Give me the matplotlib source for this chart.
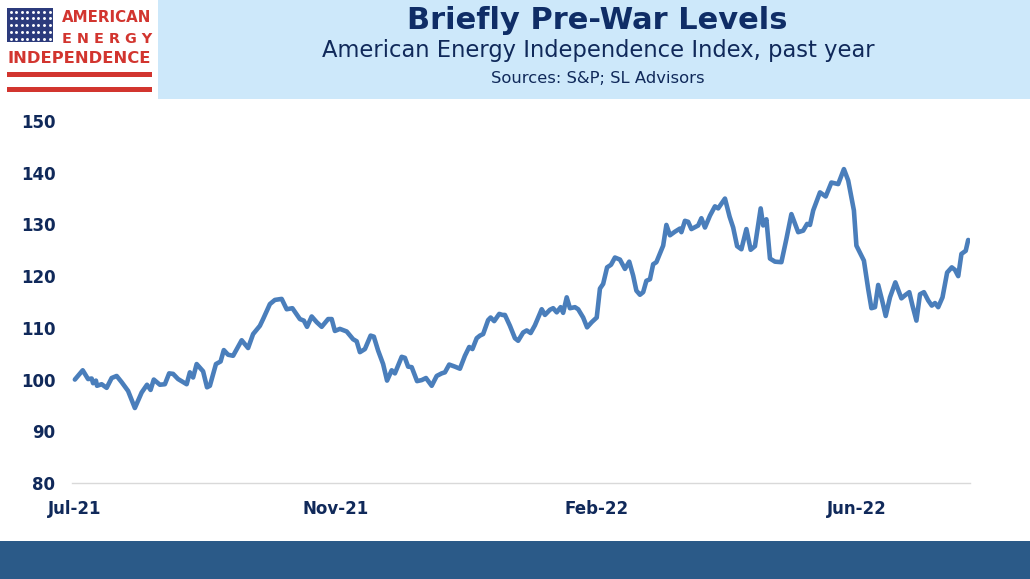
import numpy as np
import matplotlib
matplotlib.use("Agg")
import matplotlib.pyplot as plt
from matplotlib.patches import Rectangle

# trading-day index (0 = early Jul-21) and index level
days = [0.0, 2.2, 3.7, 4.7, 5.1, 5.9, 6.2, 7.5, 8.9, 10.3, 11.7, 13.1, 14.9, 16.8, 18.7,
        20.2, 21.2, 22.1, 23.8, 25.2, 26.4, 27.5, 28.9, 31.3, 32.2, 33.1, 34.1, 35.9, 37.0,
        37.8, 39.5, 40.8, 41.7, 42.9, 44.3, 46.7, 48.5, 49.9, 51.8, 52.7, 54.6, 56.0, 57.9,
        59.3, 60.9, 63.0, 64.1, 65.0, 66.3, 67.7, 69.1, 70.9, 71.9, 72.8, 74.2, 76.1, 77.9,
        78.9, 79.8, 81.2, 82.8, 83.7, 84.9, 86.3, 87.4, 88.7, 89.6, 91.5, 92.4, 93.3, 94.3,
        95.8, 97.1, 98.3, 99.9, 101.3, 102.7, 103.6, 104.8, 106.4, 107.8, 109.2, 110.4, 111.3,
        112.5, 113.4, 114.3, 115.7, 116.4, 117.4, 118.8, 119.7, 120.4, 121.8, 123.2, 124.1,
        125.5, 126.5, 127.6, 128.8, 130.7, 131.6, 133.0, 133.9, 134.9, 136.0, 136.7, 137.7,
        138.6, 140.0, 140.9, 142.3, 143.4, 144.7, 146.1, 147.0, 147.9, 149.0, 150.1, 151.2,
        152.6, 154.0, 155.2, 156.3, 157.2, 158.2, 159.1, 160.0, 161.0, 161.9, 162.8, 164.7,
        165.6, 166.6, 168.0, 169.4, 169.8, 170.8, 171.7, 172.6, 174.5, 175.4, 176.4, 177.8,
        179.2, 180.1, 182.0, 183.3, 184.3, 185.4, 186.6, 188.0, 189.2, 190.4, 192.0, 192.7,
        193.6, 194.6, 196.0, 197.8, 199.2, 200.6, 202.5, 203.9, 205.0, 205.8, 206.7, 208.6,
        210.2, 211.8, 213.7, 215.3, 216.5, 218.1, 218.8, 220.9, 222.1, 223.0, 224.0, 224.9,
        226.0, 227.0, 228.2, 229.7, 231.4, 232.6, 233.6, 234.5, 235.6, 236.6, 237.7, 238.9,
        239.9, 240.8, 241.7, 242.9, 244.2, 245.5, 246.4, 247.3, 248.2, 249.4, 250.1]
index_level = [100.0, 101.8, 100.1, 100.2, 99.3, 99.8, 98.8, 99.1, 98.4, 100.3, 100.7, 99.5,
               97.8, 94.5, 97.5, 99.0, 98.0, 100.0, 99.0, 99.1, 101.2, 101.1, 100.1, 99.1,
               101.4, 100.4, 103.0, 101.6, 98.5, 98.8, 103.0, 103.5, 105.7, 104.8, 104.6,
               107.6, 106.1, 108.8, 110.4, 111.7, 114.6, 115.4, 115.6, 113.6, 113.8, 111.7,
               111.4, 110.2, 112.2, 111.1, 110.2, 111.7, 111.7, 109.4, 109.8, 109.3, 107.8,
               107.4, 105.3, 105.9, 108.5, 108.3, 105.6, 103.0, 99.8, 101.8, 101.2, 104.4,
               104.2, 102.5, 102.4, 99.7, 99.9, 100.3, 98.8, 100.7, 101.2, 101.4, 102.9, 102.5,
               102.1, 104.6, 106.3, 105.9, 108.0, 108.5, 108.8, 111.5, 112.0, 111.3, 112.7,
               112.5, 112.5, 110.4, 108.0, 107.5, 109.1, 109.5, 109.0, 110.5, 113.6, 112.5,
               113.5, 113.8, 113.0, 114.0, 112.9, 115.9, 113.8, 114.0, 113.6, 112.0, 110.1,
               111.1, 112.0, 117.6, 118.5, 121.7, 122.2, 123.6, 123.2, 121.4, 122.8, 120.1,
               117.2, 116.4, 116.9, 119.1, 119.4, 122.3, 122.7, 125.9, 129.9, 127.9, 128.6,
               129.2, 128.5, 130.7, 130.5, 129.1, 129.8, 131.2, 129.4, 131.7, 133.5, 133.1,
               135.0, 131.5, 129.4, 125.8, 125.2, 129.1, 125.1, 125.8, 133.1, 129.8, 131.0,
               123.4, 122.8, 122.7, 127.2, 132.0, 128.5, 128.8, 130.1, 129.9, 132.7, 136.2,
               135.4, 138.1, 137.8, 140.7, 138.5, 132.7, 125.9, 123.0, 117.5, 113.8, 114.0,
               118.3, 115.3, 112.3, 115.9, 118.8, 115.7, 116.4, 116.9, 114.3, 111.4, 116.5,
               116.9, 115.3, 114.3, 114.8, 114.0, 115.9, 120.7, 121.7, 121.2, 120.0, 124.3,
               124.9, 127.0]

tick_days = [0, 73, 146, 219]
tick_labels = ['Jul-21', 'Nov-21', 'Feb-22', 'Jun-22']
y_ticks = [80, 90, 100, 110, 120, 130, 140, 150]

NAVY = '#10295A'
RED = '#D2352F'
W, H = 1030, 579

fig = plt.figure(figsize=(W / 100, H / 100), dpi=100)
fig.patch.set_facecolor('white')

# background layer in pixel coordinates for the banner, logo and footer
bg = fig.add_axes([0, 0, 1, 1], zorder=0)
bg.set_xlim(0, W)
bg.set_ylim(H, 0)
bg.axis('off')

bg.add_patch(Rectangle((158, 0), W - 158, 99, color='#CDE8FA', lw=0))
bg.add_patch(Rectangle((0, 541), W, H - 541, color='#2B5A88', lw=0))

# logo
bg.add_patch(Rectangle((7, 8), 46, 34, color='#2C3B7C', lw=0))
sx, sy = np.meshgrid(np.linspace(10.5, 49.5, 8), np.linspace(11.5, 38.5, 5))
bg.scatter(sx.ravel(), sy.ravel(), s=4.5, color='white', lw=0)
bg.add_patch(Rectangle((7, 72), 145, 5, color=RED, lw=0))
bg.add_patch(Rectangle((7, 87), 145, 5, color=RED, lw=0))
bg.text(107, 22, 'AMERICAN', color=RED, fontsize=10.8, fontweight='bold',
        ha='center', va='baseline')
bg.text(107, 43, 'E N E R G Y', color=RED, fontsize=10.4, fontweight='bold',
        ha='center', va='baseline')
bg.text(79.5, 63, 'INDEPENDENCE', color=RED, fontsize=11.8, fontweight='bold',
        ha='center', va='baseline')

# headings
bg.text(597, 29, 'Briefly Pre-War Levels', color='#0F2D66', fontsize=22,
        fontweight='bold', ha='center', va='baseline')
bg.text(598, 57, 'American Energy Independence Index, past year', color=NAVY,
        fontsize=16.3, ha='center', va='baseline')
bg.text(598, 83, 'Sources: S&P; SL Advisors', color=NAVY, fontsize=11.8,
        ha='center', va='baseline')

# chart
ax = fig.add_axes([72 / W, 1 - 483 / H, 898 / W, 362 / H], zorder=1)
ax.patch.set_alpha(0)
ax.plot(days, index_level, color='#4A7EBB', lw=3.3, solid_joinstyle='round',
        solid_capstyle='round')

ax.set_xlim(-0.8, 250.6)
ax.set_ylim(80, 150)
ax.set_yticks(y_ticks)
ax.set_xticks(tick_days)
ax.set_xticklabels(tick_labels)
for lab in ax.get_xticklabels() + ax.get_yticklabels():
    lab.set_fontweight('bold')
    lab.set_color(NAVY)
    lab.set_fontsize(12)
ax.tick_params(axis='y', length=0, pad=12)
ax.tick_params(axis='x', length=0, pad=12)

for side in ['top', 'right', 'left']:
    ax.spines[side].set_visible(False)
ax.spines['bottom'].set_color('#D9D9D9')
ax.spines['bottom'].set_linewidth(1)

fig.savefig('out.png', dpi=100)
